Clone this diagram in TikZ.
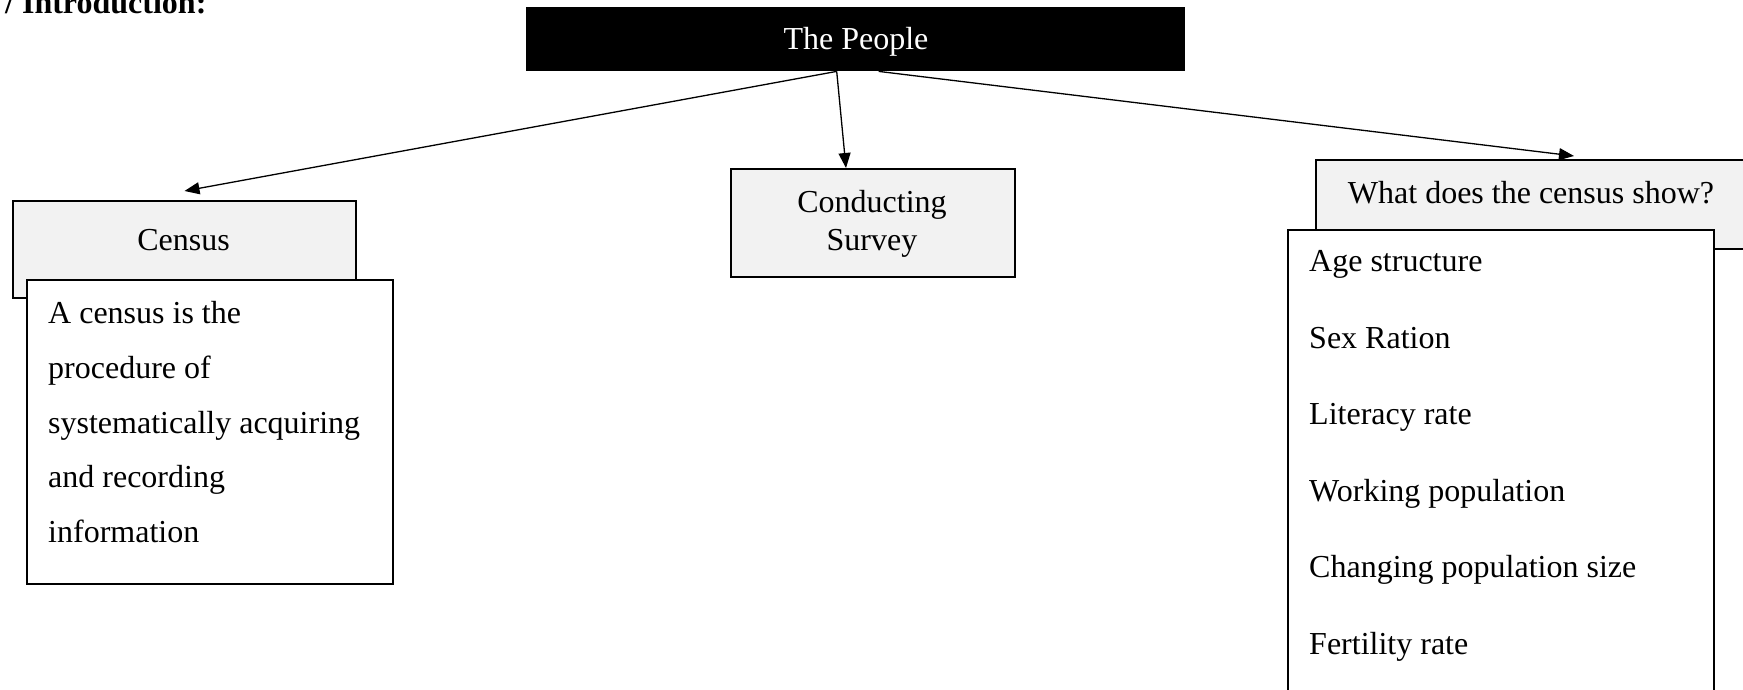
\documentclass[tikz,border=0pt]{standalone}
\usepackage{fontspec}
\setmainfont{Liberation Serif}
\usetikzlibrary{arrows.meta}
\definecolor{boxgray}{HTML}{F2F2F2}
\begin{document}
\begin{tikzpicture}[x=1pt,y=-1pt,
  box/.style={draw=black, line width=2pt, inner sep=0pt, anchor=north west},
  graybox/.style={box, fill=boxgray},
  whitebox/.style={box, fill=white},
  txt/.style={font=\fontsize{32}{38}\selectfont, inner sep=0pt, anchor=base west},
  ctxt/.style={txt, anchor=base},
  conn/.style={line width=1.3pt, -{Triangle[length=15pt,width=12pt]}}
]
\useasboundingbox (0,0) rectangle (1743,690);
\fill[white] (0,0) rectangle (1743,690);

% title (cut at top, as in the reference)
\node[txt, font=\fontsize{32}{38}\selectfont\bfseries] (title) at (5,14) {/ Introduction:};

% root
\node[anchor=north west, fill=black, inner sep=0pt, minimum width=659pt, minimum height=64pt] (people) at (526,7) {};
\node[ctxt, text=white] (peopletxt) at (856,50) {The People};

% census
\node[graybox, minimum width=343pt, minimum height=97pt] (censusbox) at (12,200) {};
\node[ctxt] (censustxt) at (183.5,250) {Census};
\node[whitebox, minimum width=366pt, minimum height=304pt] (censusdesc) at (26,279) {};
\node[txt] (d1) at (48,323) {A census is the};
\node[txt] (d2) at (48,378) {procedure of};
\node[txt] (d3) at (48,433) {systematically acquiring};
\node[txt] (d4) at (48,487) {and recording};
\node[txt] (d5) at (48,542) {information};

% survey
\node[graybox, minimum width=284pt, minimum height=108pt] (survey) at (730,168) {};
\node[ctxt] (survey1) at (872,212) {Conducting};
\node[ctxt] (survey2) at (872,250) {Survey};

% what does the census show
\node[graybox, minimum width=445pt, minimum height=89pt] (showbox) at (1315,159) {};
\node[ctxt] (showtxt) at (1531,204) {What does the census show?};
\node[whitebox, minimum width=426pt, minimum height=481pt] (listbox) at (1287,229) {};
\node[txt] (i1) at (1309,271.5) {Age structure};
\node[txt] (i2) at (1309,348.1) {Sex Ration};
\node[txt] (i3) at (1309,424.7) {Literacy rate};
\node[txt] (i4) at (1309,501.3) {Working population};
\node[txt] (i5) at (1309,577.9) {Changing population size};
\node[txt] (i6) at (1309,654.5) {Fertility rate};

% connectors
\draw[conn] ([xshift=-19pt]people.south) -- ([yshift=9pt]censusbox.north);
\draw[conn] ([xshift=-19pt]people.south) -- ([xshift=-27pt]survey.north);
\draw[conn] ([xshift=23pt]people.south) -- ([xshift=35.5pt,yshift=3pt]showbox.north);
\end{tikzpicture}
\end{document}
